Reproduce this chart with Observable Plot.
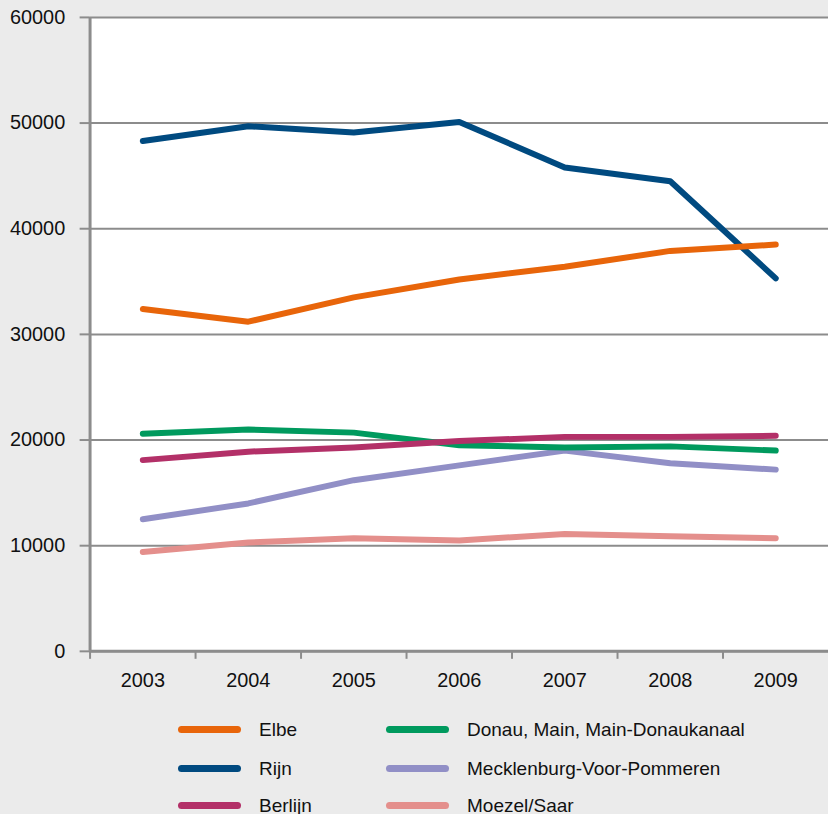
<!DOCTYPE html>
<html>
<head>
<meta charset="utf-8">
<script src="https://cdn.jsdelivr.net/npm/d3@7"></script>
<script src="https://cdn.jsdelivr.net/npm/@observablehq/plot@0.6"></script>
<style>
  html, body { margin: 0; padding: 0; background: #ebebeb; overflow: hidden; width: 828px; height: 814px; }
  #wrap { position: relative; width: 828px; height: 814px; font-family: "Liberation Sans", Arial, sans-serif; }
  #chart { position: absolute; left: 0; top: 0; }
  .leg { position: absolute; font-size: 19px; line-height: 22px; color: #111; white-space: nowrap; }
  .sw { position: absolute; height: 7px; width: 63px; border-radius: 4px; }
</style>
</head>
<body>
<div id="wrap"><div id="chart"></div></div>
<script>
const years = [2003, 2004, 2005, 2006, 2007, 2008, 2009];
const seriesNames = ["Elbe", "Rijn", "Berlijn", "Donau, Main, Main-Donaukanaal", "Mecklenburg-Voor-Pommeren", "Moezel/Saar"];
const colors = ["#e8650a", "#004a80", "#b33068", "#009a5e", "#918fc6", "#e48f8c"];
const elbe = [32400, 31200, 33500, 35200, 36400, 37900, 38500];
const rijn = [48300, 49700, 49100, 50100, 45800, 44500, 35300];
const berlijn = [18100, 18900, 19300, 19900, 20300, 20300, 20400];
const donau = [20600, 21000, 20700, 19500, 19300, 19400, 19000];
const mecklenburg = [12500, 14000, 16200, 17600, 19000, 17800, 17200];
const moezel = [9400, 10300, 10700, 10500, 11100, 10900, 10700];
const yTicks = [0, 10000, 20000, 30000, 40000, 50000, 60000];

const valuesBySeries = [elbe, rijn, berlijn, donau, mecklenburg, moezel];
const drawOrder = [5, 4, 3, 2, 1, 0];
const data = [];
for (const i of drawOrder) {
  years.forEach((y, j) => data.push({ series: seriesNames[i], year: y, value: valuesBySeries[i][j] }));
}
const boundaries = years.map(y => y - 0.5);

const plot = Plot.plot({
  width: 832,
  height: 700,
  marginLeft: 90,
  marginRight: 0,
  marginTop: 17,
  marginBottom: 46,
  style: { background: "transparent", fontFamily: "'Liberation Sans', Arial, sans-serif", fontSize: "20px", color: "#111" },
  x: { domain: [years[0] - 0.5, years[years.length - 1] + 0.5] },
  y: { domain: [0, 60000] },
  color: { domain: seriesNames, range: colors },
  marks: [
    Plot.frame({ fill: "white", stroke: null }),
    Plot.ruleY(yTicks, { stroke: "#8c8c8c", strokeWidth: 2, x1: years[0] - 0.5, x2: years[years.length - 1] + 0.5 }),
    Plot.axisY({ ticks: yTicks, tickSize: 10, tickPadding: 15, tickFormat: d => String(d), label: null, stroke: "#8c8c8c", strokeWidth: 2, fontSize: 20, fill: "#111", strokeOpacity: 1 }),
    Plot.axisX({ ticks: boundaries, tickSize: 8, tickFormat: () => "", label: null, stroke: "#8c8c8c", strokeWidth: 2, strokeOpacity: 1 }),
    Plot.axisX({ ticks: years, tickSize: 0, tickPadding: 22, tickFormat: d => String(d), label: null, fontSize: 20, fill: "#111" }),
    Plot.ruleX([years[0] - 0.5], { stroke: "#8c8c8c", strokeWidth: 3 }),
    Plot.ruleY([0], { stroke: "#8c8c8c", strokeWidth: 3 }),
    Plot.line(data, { x: "year", y: "value", z: "series", stroke: "series", strokeWidth: 6, strokeLinecap: "round", strokeLinejoin: "round" })
  ]
});
document.getElementById("chart").appendChild(plot);

// legend (column-wise, 2 columns x 3 rows)
const wrap = document.getElementById("wrap");
const colX = [[178, 259], [386, 467]];
const rowY = [729, 768, 805];
seriesNames.forEach((name, i) => {
  const col = Math.floor(i / 3), row = i % 3;
  const sw = document.createElement("div");
  sw.className = "sw";
  sw.style.left = colX[col][0] + "px";
  sw.style.top = (rowY[row] - 3.5) + "px";
  sw.style.background = colors[i];
  wrap.appendChild(sw);
  const t = document.createElement("div");
  t.className = "leg";
  t.textContent = name;
  t.style.left = colX[col][1] + "px";
  t.style.top = (rowY[row] - 10) + "px";
  wrap.appendChild(t);
});
</script>
</body>
</html>
